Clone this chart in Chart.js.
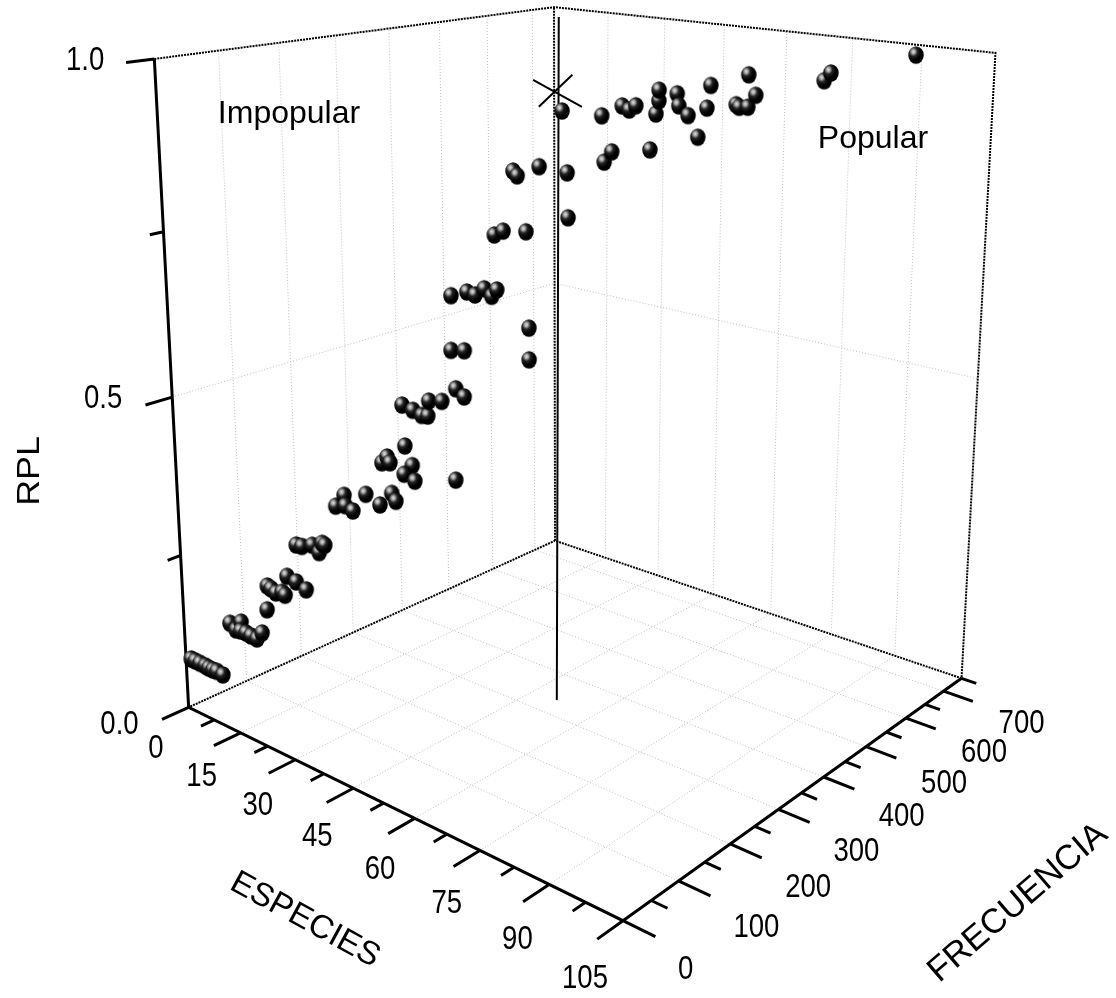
<!DOCTYPE html>
<html>
<head>
<meta charset="utf-8">
<title>RPL</title>
<style>
  body { margin: 0; background: #fff; }
  canvas { display: block; }
</style>
<script src="https://cdn.jsdelivr.net/npm/chart.js@4"></script>
</head>
<body>
<canvas id="chart" width="1116" height="998"></canvas>
<script>
//-------------------------------------------------------------
// Data
//-------------------------------------------------------------
const especies = [
  1, 2, 3, 4, 5, 6, 7, 8, 9, 10, 11, 12, 13, 14, 15, 16, 17, 18, 19, 20, 21, 22, 23, 24, 25,
  26, 27, 28, 29, 30, 31, 32, 33, 34, 35, 36, 37, 38, 39, 40, 41, 42, 43, 44, 45, 46, 47, 48, 49, 50,
  51, 52, 53, 54, 55, 56, 57, 58, 59, 60, 61, 62, 63, 64, 65, 66, 67, 68, 69, 70, 71, 72, 73, 74, 75,
  76, 77, 78, 79, 80, 81, 82, 83, 84, 85, 86, 87, 88, 89, 90, 91, 92, 93, 94, 95, 96, 97, 98,
];
const frecuencia = [
  3, 4, 6, 9, 9, 10, 11, 15, 25, 29, 32, 25, 28, 30, 34, 37, 41, 37, 37, 39, 43, 42, 40, 49, 59,
  39, 42, 53, 58, 57, 55, 69, 77, 72, 78, 94, 111, 125, 125, 96, 98, 96, 115, 120, 99, 110, 84, 95, 103, 106,
  101, 116, 133, 140, 116, 104, 119, 226, 218, 76, 95, 101, 109, 114, 115, 104, 111, 142, 208, 105, 104, 133, 173, 156, 222,
  227, 200, 280, 219, 223, 226, 254, 250, 241, 306, 256, 250, 258, 284, 281, 321, 317, 324, 329, 304, 449, 452, 636,
];
const rpl = [
  0.082, 0.081, 0.079, 0.076, 0.075, 0.074, 0.074, 0.069, 0.152, 0.142, 0.156, 0.147, 0.145, 0.142, 0.138, 0.149, 0.187, 0.229, 0.227, 0.222, 0.224, 0.222, 0.255, 0.245, 0.231,
  0.311, 0.310, 0.310, 0.299, 0.316, 0.316, 0.373, 0.389, 0.377, 0.369, 0.391, 0.371, 0.386, 0.376, 0.446, 0.456, 0.450, 0.471, 0.442, 0.438, 0.426, 0.548, 0.539, 0.531, 0.531,
  0.556, 0.553, 0.568, 0.556, 0.444, 0.636, 0.633, 0.593, 0.643, 0.725, 0.727, 0.723, 0.731, 0.721, 0.731, 0.809, 0.814, 0.808, 0.815, 0.898, 0.893, 0.901, 0.887, 0.972, 0.895,
  0.909, 0.962, 0.905, 0.974, 0.969, 0.975, 0.961, 0.980, 0.996, 0.925, 0.991, 0.977, 0.964, 0.971, 1.002, 0.972, 0.970, 0.970, 0.986, 1.017, 0.991, 1.002, 1.005,
];

// threshold marks: vertical line and the cross on it
const corteEspecie = 50.8;
const corteFrecuencia = [336, 342];
const corteRpl = [0, 1.058];
const cruzRpl = 0.952;
const cruzBrazoA = [[38.9, 389], [64.5, 271]];
const cruzBrazoB = [[59.1, 237], [40.3, 456]];

const especiesTicks = [0, 15, 30, 45, 60, 75, 90, 105];
const frecuenciaTicks = [0, 100, 200, 300, 400, 500, 600, 700];
const rplTicks = ["0.0", "0.5", "1.0"];

const MAX_ESPECIES = 105;
const MAX_FRECUENCIA = 750;

//-------------------------------------------------------------
// Perspective of the box, fitted to where its corners fall
//-------------------------------------------------------------
const boxCorners = [
  [0, 0, 0, 188, 707], [105, 0, 0, 623, 921], [105, 750, 0, 961, 678], [0, 750, 0, 556, 541],
  [0, 0, 1, 155, 59], [0, 750, 1, 553, 7], [105, 750, 1, 996, 53],
];

function gauss(A, b) {
  const n = b.length;
  for (let i = 0; i < n; i++) {
    let m = i;
    for (let k = i; k < n; k++) if (Math.abs(A[k][i]) > Math.abs(A[m][i])) m = k;
    [A[i], A[m]] = [A[m], A[i]];
    [b[i], b[m]] = [b[m], b[i]];
    for (let k = i + 1; k < n; k++) {
      const f = A[k][i] / A[i][i];
      for (let j = i; j < n; j++) A[k][j] -= f * A[i][j];
      b[k] -= f * b[i];
    }
  }
  const x = [];
  for (let i = n - 1; i >= 0; i--) {
    let s = b[i];
    for (let j = i + 1; j < n; j++) s -= A[i][j] * x[j];
    x[i] = s / A[i][i];
  }
  return x;
}

function fitProjection() {
  const rows = [];
  const rhs = [];
  for (const [s, f, r, x, y] of boxCorners) {
    const a = s / MAX_ESPECIES;
    const b = f / MAX_FRECUENCIA;
    rows.push([a, b, r, 1, 0, 0, 0, 0, -x * a, -x * b, -x * r]);
    rhs.push(x);
    rows.push([0, 0, 0, 0, a, b, r, 1, -y * a, -y * b, -y * r]);
    rhs.push(y);
  }
  const idx = Array.from({ length: 11 }, (_, i) => i);
  const N = idx.map((i) => idx.map((j) => rows.reduce((t, w) => t + w[i] * w[j], 0)));
  const B = idx.map((i) => rows.reduce((t, w, k) => t + w[i] * rhs[k], 0));
  const h = gauss(N, B);
  return [h.slice(0, 4), h.slice(4, 8), [h[8], h[9], h[10], 1]];
}

const P = fitProjection();

function project(s, f, r) {
  const v = [s / MAX_ESPECIES, f / MAX_FRECUENCIA, r, 1];
  const dot = (row) => row.reduce((t, c, i) => t + c * v[i], 0);
  const w = dot(P[2]);
  return { x: dot(P[0]) / w, y: dot(P[1]) / w };
}

// list of 3D segments -> one dataset, broken between segments
function lines(segments, style, order) {
  const data = [];
  for (const seg of segments) {
    for (const p of seg) data.push(project(p[0], p[1], p[2]));
    data.push({ x: NaN, y: NaN });
  }
  return { data, showLine: true, pointRadius: 0, spanGaps: false, order, ...style };
}

//-------------------------------------------------------------
// Sphere marker
//-------------------------------------------------------------
function makeBall() {
  const c = document.createElement("canvas");
  c.width = 18;
  c.height = 20;
  const g = c.getContext("2d");
  g.translate(9, 10);
  g.scale(1, 17.5 / 15.5);
  const grad = g.createRadialGradient(-2.6, -3, 0, -2.6, -3, 7.5);
  grad.addColorStop(0, "#e0e0e0");
  grad.addColorStop(0.22, "#b0b0b0");
  grad.addColorStop(0.55, "#242424");
  grad.addColorStop(1, "#000000");
  g.fillStyle = grad;
  g.beginPath();
  g.arc(0, 0, 7.75, 0, Math.PI * 2);
  g.fill();
  return c;
}

//-------------------------------------------------------------
// Grid, box and axes
//-------------------------------------------------------------
const gridSegments = [];
for (const f of frecuenciaTicks.slice(1)) {
  gridSegments.push([[0, f, 0], [0, f, 1]]);
  gridSegments.push([[0, f, 0], [105, f, 0]]);
}
for (const s of especiesTicks.slice(1, -1)) {
  gridSegments.push([[s, 750, 0], [s, 750, 1]]);
  gridSegments.push([[s, 0, 0], [s, 750, 0]]);
}
gridSegments.push([[0, 0, 0.5], [0, 750, 0.5], [105, 750, 0.5]]);

const boxSegments = [
  [[0, 0, 1], [0, 750, 1], [105, 750, 1], [105, 750, 0], [0, 750, 0], [0, 0, 0]],
  [[0, 750, 0], [0, 750, 1]],
];

const axisSegments = [
  [[0, 0, 1], [0, 0, 0], [105, 0, 0], [105, 750, 0]],
];
for (let s = 0; s <= 105; s += 7.5) {
  const major = s % 15 === 0;
  axisSegments.push([[s, 0, 0], [s, major ? -44 : -22, 0]]);
}
for (let f = 0; f <= 750; f += 50) {
  const major = f % 100 === 0;
  axisSegments.push([[105, f, 0], [major ? 111.3 : 108.2, f, 0]]);
}
for (let r = 0.25; r <= 1; r += 0.25) {
  const major = r % 0.5 === 0;
  axisSegments.push([[0, 0, r], [0, major ? -42 : -21, r]]);
}

//-------------------------------------------------------------
// Text
//-------------------------------------------------------------
function drawText(ctx, text, x, y, opts = {}) {
  const { size = 32, align = "center", angle = 0, sx = 1, sy = 1 } = opts;
  ctx.save();
  ctx.translate(x, y);
  ctx.rotate(angle);
  ctx.scale(sx, sy);
  ctx.font = `${size}px "Liberation Sans"`;
  ctx.fillStyle = "#000";
  ctx.textAlign = align;
  ctx.textBaseline = "middle";
  ctx.fillText(text, 0, 0);
  ctx.restore();
}

const textPlugin = {
  id: "axisText",
  afterDraw(chart) {
    const ctx = chart.ctx;
    const tick = { size: 29, sx: 0.95, sy: 1.14, align: "right" };
    rplTicks.forEach((label) => {
      const r = Number(label);
      const p = project(0, 0, r);
      drawText(ctx, label, p.x - 50, p.y + (r === 0 ? 18 : 2), tick);
    });
    especiesTicks.forEach((s) => {
      const p = project(s, 0, 0);
      const k = s / MAX_ESPECIES;
      drawText(ctx, String(s), p.x - 25 + 10 * k, p.y + 42 + 16 * k, tick);
    });
    frecuenciaTicks.forEach((f) => {
      const p = project(105, f, 0);
      drawText(ctx, String(f), p.x + 55, p.y + 49 - 0.023 * f, { ...tick, align: "left" });
    });
    drawText(ctx, "RPL", 30, 471, { size: 32, angle: -Math.PI / 2, sx: 1.12 });
    drawText(ctx, "ESPECIES", 305, 920, { size: 33, angle: 0.5 });
    drawText(ctx, "FRECUENCIA", 1018, 903, { size: 34.5, angle: -0.71 });
    drawText(ctx, "Impopular", 289, 114);
    drawText(ctx, "Popular", 873, 139);
  },
};

//-------------------------------------------------------------
// Chart
//-------------------------------------------------------------
new Chart(document.getElementById("chart"), {
  type: "scatter",
  data: {
    datasets: [
      {
        data: especies.map((s, i) => project(s, frecuencia[i], rpl[i])),
        pointStyle: makeBall(),
        order: 1,
      },
      lines(
        [
          [[corteEspecie, corteFrecuencia[0], corteRpl[0]], [corteEspecie, corteFrecuencia[1], corteRpl[1]]],
          cruzBrazoA.map(([s, f]) => [s, f, cruzRpl]),
          cruzBrazoB.map(([s, f]) => [s, f, cruzRpl]),
        ],
        { borderColor: "#000", borderWidth: 2 },
        2
      ),
      lines(axisSegments, { borderColor: "#000", borderWidth: 3 }, 3),
      lines(boxSegments, { borderColor: "#000", borderWidth: 2, borderDash: [2, 1] }, 4),
      lines(gridSegments, { borderColor: "#bdbdbd", borderWidth: 1, borderDash: [1, 2] }, 5),
    ],
  },
  options: {
    responsive: false,
    animation: false,
    layout: { autoPadding: false, padding: 0 },
    plugins: { legend: { display: false }, tooltip: { enabled: false } },
    scales: {
      x: { type: "linear", min: 0, max: 1116, display: false },
      y: { type: "linear", min: 0, max: 998, reverse: true, display: false },
    },
  },
  plugins: [textPlugin],
});
</script>
</body>
</html>
